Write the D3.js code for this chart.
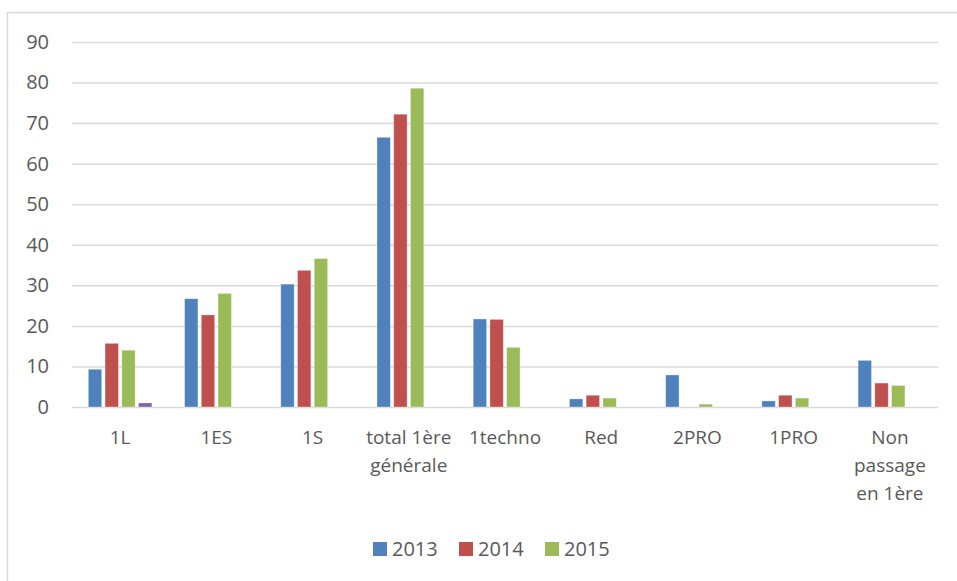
<!DOCTYPE html>
<html>
<head>
<meta charset="utf-8">
<script src="https://cdn.jsdelivr.net/npm/d3@7"></script>
<style>
  body { margin: 0; background: #fff; }
  text { font-family: "Open Sans", sans-serif; fill: #595959; }
</style>
</head>
<body>
<div id="graph"></div>
<script>
// Catégories (axe X)
var categories = ["1L", "1ES", "1S", "total 1ère générale", "1techno", "Red", "2PRO", "1PRO", "Non passage en 1ère"];

// Séries (null = pas de barre)
var annees = ["2013", "2014", "2015", ""];
var val2013 = [9.3, 26.7, 30.3, 66.5, 21.7, 2.0, 7.9, 1.5, 11.5];
var val2014 = [15.7, 22.7, 33.7, 72.2, 21.6, 2.9, null, 2.9, 5.9];
var val2015 = [14.0, 28.0, 36.6, 78.6, 14.7, 2.2, 0.7, 2.2, 5.3];
var valAutre = [1.0, null, null, null, null, null, null, null, null];

var ticksY = [0, 10, 20, 30, 40, 50, 60, 70, 80, 90];
var couleurs = ["#4F81BD", "#C0504D", "#9BBB59", "#8064A2"];

var series = [val2013, val2014, val2015, valAutre];
var donnees = categories.map(function(c, i) {
  return { cat: c, valeurs: series.map(function(s, j) { return { serie: j, v: s[i] }; }) };
});

var largeur = 957, hauteur = 581;
var marges = { haut: 42, droit: 19, bas: 174, gauche: 72 };

var svg = d3.select("#graph").append("svg")
    .attr("width", largeur)
    .attr("height", hauteur);

// cadre du graphique
svg.append("rect")
    .attr("x", 7.5).attr("y", 12.5)
    .attr("width", 980).attr("height", 600)
    .attr("fill", "none")
    .attr("stroke", "#d9d9d9")
    .attr("stroke-width", 1.5);

var echelleY = d3.scaleLinear()
    .domain([0, 90])
    .range([hauteur - marges.bas, marges.haut]);

var echelleX = d3.scaleBand()
    .domain(categories)
    .range([marges.gauche, largeur - marges.droit])
    .paddingInner(0.27)
    .paddingOuter(0.135);

var echelleSerie = d3.scaleBand()
    .domain(d3.range(series.length))
    .range([0, echelleX.bandwidth()])
    .padding(0.2);

// grille horizontale + labels Y
var axeY = d3.axisLeft(echelleY)
    .tickValues(ticksY)
    .tickSize(-(largeur - marges.droit - marges.gauche))
    .tickPadding(23);

var gY = svg.append("g")
    .attr("transform", "translate(" + marges.gauche + ",0)")
    .call(axeY);
gY.select(".domain").remove();
gY.selectAll("line").attr("stroke", "#d9d9d9").attr("stroke-width", 1.5);
gY.selectAll("text").style("font-size", "20px").attr("fill", "#595959");

// barres
var groupes = svg.selectAll(".groupe")
  .data(donnees)
  .enter()
  .append("g")
  .attr("class", "groupe")
  .attr("transform", function(d) { return "translate(" + echelleX(d.cat) + ",0)"; });

groupes.selectAll("rect")
  .data(function(d) { return d.valeurs.filter(function(e) { return e.v != null; }); })
  .enter()
  .append("rect")
  .attr("x", function(d) { return echelleSerie(d.serie); })
  .attr("width", echelleSerie.bandwidth())
  .attr("y", function(d) { return echelleY(d.v); })
  .attr("height", function(d) { return echelleY(0) - echelleY(d.v); })
  .attr("fill", function(d) { return couleurs[d.serie]; })
  .attr("stroke", "#ffffff")
  .attr("stroke-opacity", 0.4)
  .attr("stroke-width", 0.8);

// labels X (avec retour à la ligne)
var axeX = d3.axisBottom(echelleX).tickSize(0).tickPadding(24);
var gX = svg.append("g")
    .attr("transform", "translate(0," + echelleY(0) + ")")
    .call(axeX);
gX.select(".domain").remove();
gX.selectAll("text")
    .style("font-size", "19px")
    .attr("fill", "#595959")
    .call(couper, echelleX.step() - 2);

function couper(textes, largeurMax) {
  textes.each(function() {
    var texte = d3.select(this),
        mots = texte.text().split(/\s+/),
        ligne = [],
        numLigne = 0,
        y = texte.attr("y"),
        tspan = texte.text(null).append("tspan").attr("x", 0).attr("y", y).attr("dy", "0.71em");
    mots.forEach(function(mot) {
      ligne.push(mot);
      tspan.text(ligne.join(" "));
      if (tspan.node().getComputedTextLength() > largeurMax && ligne.length > 1) {
        ligne.pop();
        tspan.text(ligne.join(" "));
        ligne = [mot];
        numLigne++;
        tspan = texte.append("tspan").attr("x", 0).attr("y", y)
          .attr("dy", (0.71 + numLigne * 1.45) + "em").text(mot);
      }
    });
  });
}

// légende
var legende = svg.append("g").attr("transform", "translate(373,542)");
var items = legende.selectAll("g")
  .data(annees.filter(function(a) { return a !== ""; }))
  .enter()
  .append("g")
  .attr("transform", function(d, i) { return "translate(" + (i * 86) + ",0)"; });
items.append("rect")
  .attr("width", 14).attr("height", 14)
  .attr("fill", function(d, i) { return couleurs[i]; });
items.append("text")
  .attr("x", 19).attr("y", 7)
  .attr("dy", "0.36em")
  .style("font-size", "20px")
  .text(function(d) { return d; });
</script>
</body>
</html>
